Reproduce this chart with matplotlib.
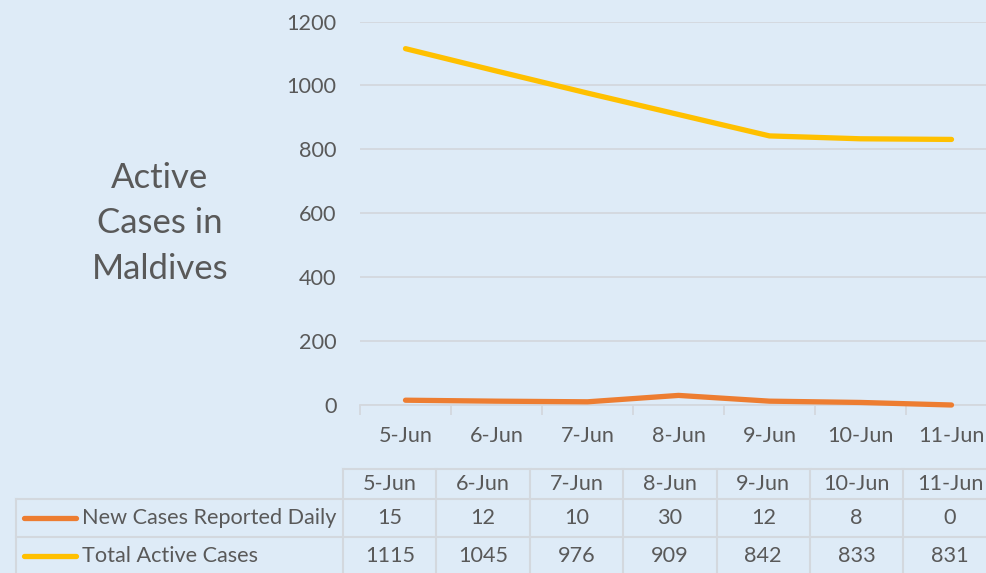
import matplotlib
matplotlib.use("Agg")
import matplotlib.pyplot as plt

# data
dates = ["5-Jun", "6-Jun", "7-Jun", "8-Jun", "9-Jun", "10-Jun", "11-Jun"]
new_cases = [15, 12, 10, 30, 12, 8, 0]
total_active = [1115, 1045, 976, 909, 842, 833, 831]
series_names = ["New Cases Reported Daily", "Total Active Cases"]
series_colors = ["#ED7D31", "#FFC000"]
y_ticks = [0, 200, 400, 600, 800, 1000, 1200]

BG = "#DEEBF7"
GRID = "#D3D8DE"
TXT = "#595959"
FONT = "Lato"
FS = 15.6

W, H = 986, 573
fig = plt.figure(figsize=(W / 100, H / 100), dpi=100)
fig.patch.set_facecolor(BG)

# plot area in pixels
px_left, px_right, px_top, px_bottom = 360, 997, 21.5, 405
ax = fig.add_axes([px_left / W, 1 - px_bottom / H,
                   (px_right - px_left) / W, (px_bottom - px_top) / H])
ax.set_facecolor(BG)
ax.set_xlim(0, len(dates))
ax.set_ylim(0, 1200)

xs = [i + 0.5 for i in range(len(dates))]
for vals, c in zip([new_cases, total_active], series_colors):
    ax.plot(xs, vals, color=c, lw=3.8, solid_capstyle="round",
            solid_joinstyle="round", clip_on=False, zorder=3)

ax.set_yticks(y_ticks)
ax.set_yticklabels([str(t) for t in y_ticks], fontsize=FS, color=TXT, family=FONT)
ax.tick_params(axis="y", length=0, pad=17)
ax.yaxis.grid(True, color=GRID, lw=1.3)
ax.set_axisbelow(True)

ax.set_xticks(range(len(dates) + 1))
ax.set_xticklabels([])
ax.tick_params(axis="x", length=7, color=GRID, width=1.3)
for i, d in enumerate(dates):
    ax.text(xs[i], -97, d, ha="center", va="center", fontsize=FS,
            color=TXT, family=FONT, transform=ax.transData)

for s in ["top", "right", "left"]:
    ax.spines[s].set_visible(False)
ax.spines["bottom"].set_color(GRID)
ax.spines["bottom"].set_linewidth(1.3)

# overlay in pixel coords for title and data table
ov = fig.add_axes([0, 0, 1, 1])
ov.set_xlim(0, W)
ov.set_ylim(H, 0)
ov.axis("off")
ov.patch.set_alpha(0)

for txt, y in zip(["Active", "Cases in", "Maldives"], [178, 223, 269]):
    ov.text(160, y, txt, ha="center", va="center", fontsize=25, color=TXT, family=FONT)

# data table
col0, col_w = 343, 93.4
label_left = 16
row_edges = [469, 499, 537, 575]
col_edges = [col0 + i * col_w for i in range(len(dates) + 1)]
bc = "#D3D8DE"
blw = 1.5

# horizontal lines
ov.plot([col0, col_edges[-1]], [row_edges[0]] * 2, color=bc, lw=blw)
for y in row_edges[1:]:
    ov.plot([label_left, col_edges[-1]], [y, y], color=bc, lw=blw)
# vertical lines
for x in col_edges:
    ov.plot([x, x], [row_edges[0], row_edges[-1]], color=bc, lw=blw)
ov.plot([label_left, label_left], [row_edges[1], row_edges[-1]], color=bc, lw=blw)

def row_mid(r):
    return (row_edges[r] + row_edges[r + 1]) / 2

for i, d in enumerate(dates):
    ov.text(col_edges[i] + col_w / 2, row_mid(0), d, ha="center", va="center",
            fontsize=FS, color=TXT, family=FONT)

for r, (name, vals, c) in enumerate(zip(series_names, [new_cases, total_active], series_colors)):
    ym = row_mid(r + 1)
    ov.plot([24, 76], [ym, ym], color=c, lw=3.8, solid_capstyle="round")
    ov.text(82, ym, name, ha="left", va="center", fontsize=FS, color=TXT, family=FONT)
    for i, v in enumerate(vals):
        ov.text(col_edges[i] + col_w / 2, ym, str(v), ha="center", va="center",
                fontsize=FS, color=TXT, family=FONT)

fig.savefig("out.png", dpi=100, facecolor=BG)
